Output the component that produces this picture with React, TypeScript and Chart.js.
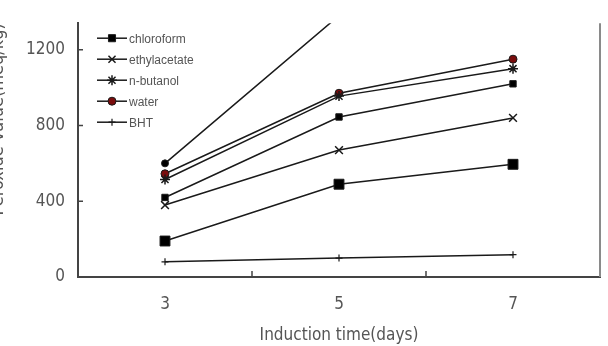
import React, { useEffect, useRef } from 'react';
import { Chart, registerables } from 'chart.js';
import { drawPoint } from 'chart.js/helpers';

Chart.register(...registerables);

const categories = ['3', '5', '7'];
const chloroform = [190, 490, 595];
const ethylacetate = [380, 670, 840];
const nButanol = [515, 955, 1100];
const water = [545, 970, 1150];
const bht = [80, 100, 118];
const extraSeries = [420, 845, 1020];
const controlSeries = [600, 1380, 2000];
const yTickValues = [0, 400, 800, 1200];
const yMax = 1340;
const xTitle = 'Induction time(days)';
const yTitle = 'Peroxide value(meq/kg)';

const FONT = "'Liberation Sans Narrow', 'DejaVu Sans Condensed', 'Liberation Sans', sans-serif";
const LINE = '#1a1a1a';
const TEXT = '#555555';
const AXIS = '#444444';

const insidePlugin = {
  id: 'insideDecor',
  afterDraw(chart: any) {
    const ctx = chart.ctx;
    const area = chart.chartArea;
    const xs = chart.scales.x;
    const ys = chart.scales.y;
    ctx.save();
    ctx.strokeStyle = AXIS;
    ctx.lineWidth = 1.5;
    ctx.beginPath();
    yTickValues.forEach((v) => {
      if (v === 0) return;
      const p = ys.getPixelForValue(v);
      ctx.moveTo(area.left, p);
      ctx.lineTo(area.left + 5, p);
    });
    for (let i = 0; i < categories.length - 1; i++) {
      const p = (xs.getPixelForValue(i) + xs.getPixelForValue(i + 1)) / 2;
      ctx.moveTo(p, area.bottom);
      ctx.lineTo(p, area.bottom - 6);
    }
    ctx.stroke();
    ctx.strokeStyle = '#8a8a8a';
    ctx.lineWidth = 2;
    ctx.beginPath();
    ctx.moveTo(area.right, area.top);
    ctx.lineTo(area.right, area.bottom);
    ctx.stroke();

    const items = chart.data.datasets.filter((d: any) => d.inLegend);
    const x0 = area.left + 19;
    items.forEach((d: any, i: number) => {
      const y = area.top + 15 + i * 21;
      ctx.strokeStyle = LINE;
      ctx.lineWidth = 1.5;
      ctx.beginPath();
      ctx.moveTo(x0, y);
      ctx.lineTo(x0 + 30, y);
      ctx.stroke();
      ctx.fillStyle = d.pointBackgroundColor;
      ctx.strokeStyle = d.pointBorderColor;
      ctx.lineWidth = d.pointBorderWidth;
      drawPoint(ctx, { pointStyle: d.pointStyle, radius: Math.min(d.pointRadius, 5), borderWidth: d.pointBorderWidth, rotation: 0 }, x0 + 15, y);
      ctx.fillStyle = TEXT;
      ctx.font = "12px 'Liberation Sans', sans-serif";
      ctx.textBaseline = 'middle';
      ctx.textAlign = 'left';
      ctx.fillText(d.label, x0 + 32, y + 1);
    });
    ctx.restore();
  },
};

function ds(label: string, data: number[], style: string, radius: number, fill: string, bw: number, inLegend: boolean) {
  return {
    label,
    data,
    inLegend,
    borderColor: LINE,
    borderWidth: 1.5,
    backgroundColor: fill,
    pointStyle: style,
    pointRadius: radius,
    pointBackgroundColor: fill,
    pointBorderColor: LINE,
    pointBorderWidth: bw,
    fill: false,
    tension: 0,
  };
}

export default function App() {
  const ref = useRef<HTMLCanvasElement>(null);
  useEffect(() => {
    const chart = new Chart(ref.current as HTMLCanvasElement, {
      type: 'line',
      data: {
        labels: categories,
        datasets: [
          ds('chloroform', chloroform, 'rect', 7, '#000000', 1, true),
          ds('ethylacetate', ethylacetate, 'crossRot', 5.5, '#000000', 1.5, true),
          ds('n-butanol', nButanol, 'star', 5, '#000000', 1.5, true),
          ds('water', water, 'circle', 4, '#7a0d0d', 1, true),
          ds('BHT', bht, 'cross', 3.5, '#000000', 1.2, true),
          ds('series6', extraSeries, 'rect', 4.5, '#000000', 1, false),
          ds('control', controlSeries, 'circle', 3.5, '#000000', 1, false),
        ] as any,
      },
      options: {
        animation: false,
        responsive: false,
        layout: { padding: { left: 0, right: 6, top: 9, bottom: 0 } },
        plugins: { legend: { display: false }, tooltip: { enabled: false } },
        scales: {
          x: {
            type: 'category',
            offset: true,
            grid: { display: false, drawTicks: false },
            border: { display: true, color: AXIS, width: 2 },
            ticks: { color: TEXT, font: { size: 17, family: FONT }, padding: 17 },
            title: { display: true, text: xTitle, color: TEXT, font: { size: 17, family: FONT }, padding: 0 },
            afterFit: (s: any) => { s.height = 69; },
          },
          y: {
            min: 0,
            max: yMax,
            afterBuildTicks: (s: any) => { s.ticks = yTickValues.map((v) => ({ value: v })); },
            grid: { display: false, drawTicks: false },
            border: { display: true, color: AXIS, width: 2 },
            ticks: { color: TEXT, font: { size: 17, family: FONT }, padding: 13, callback: (v: any) => String(v) },
            title: { display: true, text: yTitle, align: 'end', color: TEXT, font: { size: 18, family: FONT }, padding: { top: 0, bottom: 0 } },
            afterFit: (s: any) => { s.width = 90; },
          },
        },
      } as any,
      plugins: [insidePlugin],
    });
    return () => chart.destroy();
  }, []);
  return (
    <div style={{ position: 'absolute', left: -12, top: 0, width: 620, height: 346 }}>
      <canvas ref={ref} width={620} height={346} style={{ display: 'block' }} />
    </div>
  );
}
